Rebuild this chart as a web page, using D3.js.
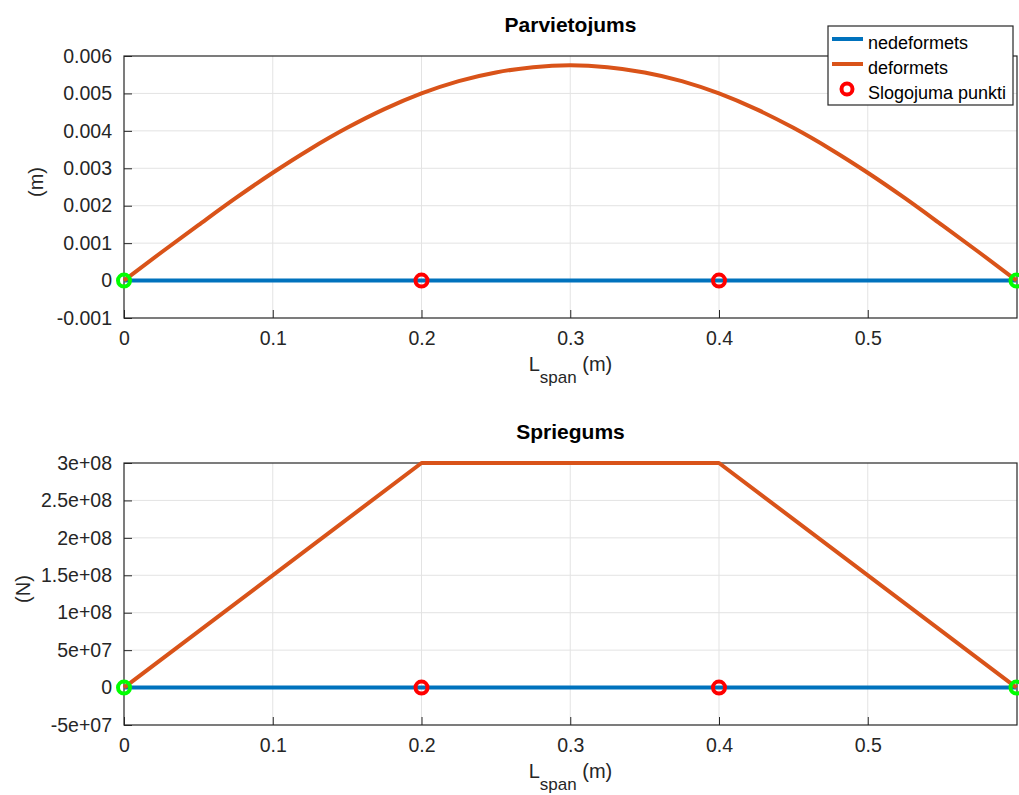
<!DOCTYPE html>
<html><head><meta charset="utf-8">
<script src="https://cdn.jsdelivr.net/npm/d3@7"></script>
<style>body{margin:0;background:#fff}svg{display:block;font-family:"Liberation Sans",Arial,sans-serif}</style>
</head><body>
<svg id="c" width="1019" height="795"></svg>
<script>
// ---- data ----
const xTicks = [0, 0.1, 0.2, 0.3, 0.4, 0.5];
const dispYTicks = [-0.001, 0, 0.001, 0.002, 0.003, 0.004, 0.005, 0.006];
const dispYLabels = ["-0.001","0","0.001","0.002","0.003","0.004","0.005","0.006"];
const stressYTicks = [-5e7, 0, 5e7, 1e8, 1.5e8, 2e8, 2.5e8, 3e8];
const stressYLabels = ["-5e+07","0","5e+07","1e+08","1.5e+08","2e+08","2.5e+08","3e+08"];
const undeformedX = [0, 0.6];
const undeformedY = [0, 0];
const deformedX = [0,0.025,0.05,0.075,0.1,0.125,0.15,0.175,0.2,0.225,0.25,0.275,0.3,0.325,0.35,0.375,0.4,0.425,0.45,0.475,0.5,0.525,0.55,0.575,0.6];
const deformedY = [0,0.00075,0.00148,0.0022,0.00288,0.00351,0.00408,0.00458,0.005,0.00533,0.00556,0.0057,0.00575,0.0057,0.00556,0.00533,0.005,0.00458,0.00408,0.00351,0.00288,0.0022,0.00148,0.00075,0];
const stressX = [0, 0.2, 0.4, 0.6];
const stressY = [0, 3e8, 3e8, 0];
const nodeX = [0.2, 0.4];
const supportX = [0, 0.6];
const legendLabels = ["nedeformets", "deformets", "Slogojuma punkti"];

const BLUE = "#0072BD", ORANGE = "#D95319", RED = "#ff0000", GREEN = "#00ff00";
const svg = d3.select("#c");

function panel(cfg) {
  const {top, bottom, left, right, ydom, yticks, ylabels, title, ylabel, ylabX, dataX, dataY, xlabY, curve} = cfg;
  const x = d3.scaleLinear().domain([0, 0.6]).range([left, right - 0.5]);
  const y = d3.scaleLinear().domain(ydom).range([bottom, top]);
  const g = svg.append("g");
  // grid
  g.selectAll(".gx").data(xTicks.slice(1)).join("line")
    .attr("x1", d => x(d)).attr("x2", d => x(d)).attr("y1", top).attr("y2", bottom)
    .attr("stroke", "#e3e3e3").attr("stroke-width", 1);
  g.selectAll(".gy").data(yticks.slice(1, -1)).join("line")
    .attr("x1", left).attr("x2", right).attr("y1", d => y(d)).attr("y2", d => y(d))
    .attr("stroke", "#e3e3e3").attr("stroke-width", 1);
  // axes
  const yAxis = d3.axisLeft(y).tickValues(yticks).tickSizeInner(-8).tickSizeOuter(0)
    .tickPadding(12).tickFormat((d, i) => ylabels[i]);
  const ya = g.append("g").attr("transform", `translate(${left},0)`).call(yAxis);
  const xAxis = d3.axisBottom(x).tickValues(xTicks).tickSizeInner(-8).tickSizeOuter(0)
    .tickPadding(13).tickFormat(d => d === 0 ? "0" : d3.format(".1f")(d));
  const xa = g.append("g").attr("transform", `translate(0,${bottom})`).call(xAxis);
  [ya, xa].forEach(a => {
    a.select(".domain").remove();
    a.selectAll(".tick line").attr("stroke", "#262626");
    a.selectAll(".tick text").attr("fill", "#262626").style("font-size", "19.5px");
  });
  // box
  g.append("rect").attr("x", left).attr("y", top).attr("width", right - left).attr("height", bottom - top)
    .attr("fill", "none").attr("stroke", "#262626").attr("stroke-width", 1.2);
  // title
  g.append("text").attr("x", (left + right) / 2).attr("y", top - 24).attr("text-anchor", "middle")
    .style("font-size", "21px").style("font-weight", "bold").attr("fill", "#000").text(title);
  // y label
  g.append("text").attr("transform", `translate(${ylabX},${(top + bottom) / 2 - 5}) rotate(-90)`)
    .attr("text-anchor", "middle").style("font-size", "20px").attr("fill", "#262626").text(ylabel);
  // x label
  const xl = g.append("text").attr("x", (left + right) / 2).attr("y", xlabY).attr("text-anchor", "middle")
    .style("font-size", "20px").attr("fill", "#262626");
  xl.append("tspan").text("L");
  xl.append("tspan").attr("dy", 12).style("font-size", "17px").text("span");
  xl.append("tspan").attr("dy", -12).text(" (m)");
  // lines
  const line = d3.line().x(d => x(d[0])).y(d => y(d[1]));
  g.append("path").datum(undeformedX.map((d, i) => [d, undeformedY[i]])).attr("d", line)
    .attr("fill", "none").attr("stroke", BLUE).attr("stroke-width", 4);
  g.append("path").datum(dataX.map((d, i) => [d, dataY[i]])).attr("d", line.curve(curve))
    .attr("fill", "none").attr("stroke", ORANGE).attr("stroke-width", 4).attr("stroke-linejoin", "round");
  // markers
  g.selectAll(".n").data(nodeX).join("circle").attr("cx", d => x(d)).attr("cy", y(0)).attr("r", 6)
    .attr("fill", "none").attr("stroke", RED).attr("stroke-width", 4);
  g.selectAll(".s").data(supportX).join("circle").attr("cx", d => x(d)).attr("cy", y(0)).attr("r", 6)
    .attr("fill", "none").attr("stroke", GREEN).attr("stroke-width", 4);
  return g;
}

panel({top: 56, bottom: 318, left: 124, right: 1017, ydom: [-0.001, 0.006],
  yticks: dispYTicks, ylabels: dispYLabels, title: "Parvietojums", ylabel: "(m)", ylabX: 43,
  dataX: deformedX, dataY: deformedY, xlabY: 371, curve: d3.curveMonotoneX});
panel({top: 463, bottom: 725, left: 124, right: 1017, ydom: [-5e7, 3e8],
  yticks: stressYTicks, ylabels: stressYLabels, title: "Spriegums", ylabel: "(N)", ylabX: 30,
  dataX: stressX, dataY: stressY, xlabY: 778, curve: d3.curveLinear});

// legend
const lg = svg.append("g");
lg.append("rect").attr("x", 828).attr("y", 26).attr("width", 185).attr("height", 79)
  .attr("fill", "#fff").attr("stroke", "#262626").attr("stroke-width", 1.2);
const rows = [39, 64, 89];
lg.append("line").attr("x1", 832).attr("x2", 863).attr("y1", rows[0]).attr("y2", rows[0]).attr("stroke", BLUE).attr("stroke-width", 4);
lg.append("line").attr("x1", 832).attr("x2", 863).attr("y1", rows[1]).attr("y2", rows[1]).attr("stroke", ORANGE).attr("stroke-width", 4);
lg.append("circle").attr("cx", 847).attr("cy", rows[2]).attr("r", 5.5).attr("fill", "none").attr("stroke", RED).attr("stroke-width", 4);
legendLabels.forEach((t, i) => {
  lg.append("text").attr("x", 868).attr("y", rows[i] + 10).style("font-size", "18px").attr("fill", "#000").text(t);
});
</script>
</body></html>
